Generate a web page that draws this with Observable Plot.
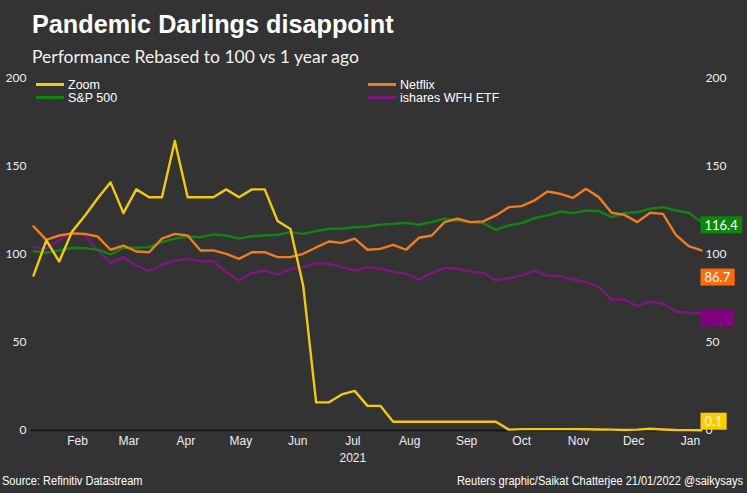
<!DOCTYPE html>
<html><head><meta charset="utf-8">
<script src="https://cdn.jsdelivr.net/npm/d3@7"></script>
<script src="https://cdn.jsdelivr.net/npm/@observablehq/plot@0.6"></script>
<style>
html,body{margin:0;padding:0;background:#333333;}
#wrap{position:relative;width:747px;height:493px;overflow:hidden;background:#333333;}
#title{position:absolute;left:32px;top:9px;line-height:27px;font:bold 26px "Liberation Sans",Arial,sans-serif;color:#fff;white-space:nowrap;transform:scaleX(0.97);transform-origin:left center;}
#subtitle{position:absolute;left:32px;top:46px;line-height:18px;font:17.5px Lato,"Open Sans",sans-serif;color:#f2f2f2;white-space:nowrap;}
#chart{position:absolute;left:0;top:68px;}
.leg{position:absolute;font:12.5px "Liberation Sans",Arial,sans-serif;color:#fff;line-height:12px;white-space:nowrap;}
.leg span.sw{display:inline-block;width:28px;height:2.5px;vertical-align:middle;margin-right:4px;position:relative;top:-1px;}
.foot{position:absolute;top:474px;font:12px "Liberation Sans Narrow","Arial Narrow","Liberation Sans",sans-serif;color:#fff;white-space:nowrap;line-height:14px;transform:scaleX(0.92);}
</style>
</head><body>
<div id="wrap">
  <div id="title">Pandemic Darlings disappoint</div>
  <div id="subtitle">Performance Rebased to 100 vs 1 year ago</div>
  <div id="chart"></div>
  <div id="legend"></div>
  <div class="foot" style="left:2px;transform-origin:left center;">Source: Refinitiv Datastream</div>
  <div class="foot" style="right:4px;transform-origin:right center;">Reuters graphic/Saikat Chatterjee 21/01/2022 @saikysays</div>
</div>
<script>
// ---- data ----
const seriesNames = ["ishares WFH ETF", "S&P 500", "Netflix", "Zoom"];
const seriesColors = ["#80167f", "#118311", "#ee7d22", "#f2c811"];
const startDate = "2021-01-22"; // weekly observations (Fridays)
const zoom = [88,108,96,113,122,132,141,123.5,137,132.5,132.5,164.5,132.5,132.5,132.5,137,132.5,137,137,119,114.5,82,16,16,20.5,22.5,14,14,5,5,5,5,5,5,5,5,5,0.5,0.8,0.8,0.8,0.8,0.8,0.7,0.6,0.5,0.3,0.5,1.0,0.6,0.3,0.2,0.1];
const netflix = [116,108.3,110.8,112,111.7,110.2,102.7,105,101.7,101.3,109,111.7,110.8,102.3,102.3,100.4,97.5,101.3,101.3,98.5,98.5,100.4,104,107.4,106.6,109,102.7,103.2,105.5,102.7,109.5,110.8,118.4,120.3,118.4,118.8,122.2,126.9,127.5,130.7,135.8,134.5,132.2,137.3,132.6,123.7,122.5,118.4,123.7,123.1,111.2,104.7,102.3];
const sp500 = [101.9,101,102.3,103.8,103.6,102.7,100,103.8,103.8,104.2,107,109,110.2,109.8,111.4,110.8,109,110.4,110.8,111.2,112.7,111.7,113.3,114.6,114.6,115.5,115.9,117,117.4,118,116.9,118.4,120.3,119.3,118.4,117.8,114,116.5,117.8,120.6,122.2,124.4,123.5,125,124.6,121.2,123.5,124,126,126.9,125,123.7,118.4];
const wfh = [104.2,103.2,108.3,112.7,110.8,102.3,95.1,98.5,93.8,90.5,94.3,96.6,97.5,96.2,96.2,89.9,85.2,89.4,90.9,88.6,91.9,92.8,95.1,94.7,92.8,90.9,92.8,91.9,90.3,89,85.8,89.4,92.4,91.9,90.3,89.6,85.2,86.5,88,90.9,88,87.7,85.8,84.4,81.4,74.4,74.4,70.6,73.3,72,67.6,66.9,66.3];
// latest values shown in the end labels
const endNames = ["S&P 500", "Netflix", "ishares WFH ETF", "Zoom"];
const endValues = [116.4, 86.7, 63.5, 0.1];
const endBoxColors = ["#0b870b", "#ff6a0c", "#80007f", "#ffcc00"];
const endTextColors = ["#ffffff", "#ffffff", "#80007f", "#fff6c8"];
const yTicks = [0, 50, 100, 150, 200];
const monthTicks = ["2021-02-15","2021-03-15","2021-04-15","2021-05-15","2021-06-15","2021-07-15","2021-08-15","2021-09-15","2021-10-15","2021-11-15","2021-12-15","2022-01-15"];
const yearLabel = "2021";
const yearLabelDate = "2021-07-15";
const legendItems = [
  {name:"Zoom", color:"#f2c811"},
  {name:"S&P 500", color:"#118311"},
  {name:"Netflix", color:"#ee7d22"},
  {name:"ishares WFH ETF", color:"#80167f"}
];

// ---- build ----
const valuesByName = {"Zoom": zoom, "Netflix": netflix, "S&P 500": sp500, "ishares WFH ETF": wfh};
const t0 = new Date(startDate + "T00:00:00Z");
const dates = zoom.map((_, i) => d3.utcDay.offset(t0, 7 * i));
const rows = seriesNames.flatMap(n => valuesByName[n].map((v, i) => ({name: n, date: dates[i], value: v})));
const lastDate = dates[dates.length - 1];
const endRows = endNames.map((n, i) => ({name: n, value: endValues[i], box: endBoxColors[i], fg: endTextColors[i], date: lastDate}));
const narrow = "'Liberation Sans Narrow','Arial Narrow','Liberation Sans',sans-serif";

const plot = Plot.plot({
  width: 747,
  height: 405,
  marginTop: 10,
  marginBottom: 43,
  marginLeft: 33,
  marginRight: 46,
  style: {background: "transparent", color: "#eeeeee", fontFamily: "Lato, 'Open Sans', sans-serif", fontSize: "12px", overflow: "visible"},
  x: {type: "utc", domain: [dates[0], lastDate]},
  y: {domain: [0, 200]},
  color: {domain: seriesNames, range: seriesColors},
  marks: [
    Plot.ruleY([0], {stroke: "#111111", strokeWidth: 1.3, insetLeft: -2, insetRight: -10}),
    Plot.axisY({anchor: "left", ticks: yTicks, tickSize: 0, tickPadding: 7, label: null, fill: "#eeeeee"}),
    Plot.axisY({anchor: "right", ticks: yTicks, tickSize: 0, tickPadding: 4, label: null, fill: "#eeeeee"}),
    Plot.axisX({ticks: monthTicks.map(s => new Date(s + "T00:00:00Z")), tickFormat: d3.utcFormat("%b"), tickSize: 0, tickPadding: 6, label: null, fill: "#eeeeee", fontFamily: narrow, fontSize: 12}),
    Plot.text([yearLabel], {x: () => new Date(yearLabelDate + "T00:00:00Z"), text: d => d, frameAnchor: "bottom", dy: 31, fill: "#eeeeee", fontFamily: narrow, fontSize: 12}),
    Plot.lineY(rows, {x: "date", y: "value", z: "name", stroke: "name", strokeWidth: 2.4}),
    Plot.text(endRows, {x: "date", y: d => Math.max(d.value, 4.8), text: d => d.value.toFixed(1), textAnchor: "start", dx: 3, fill: d => d.fg, fontSize: 13, fontFamily: "Lato, 'Open Sans', sans-serif", className: "endlab"})
  ]
});
document.getElementById("chart").appendChild(plot);

// boxes behind end labels, sized from the rendered label text
const labG = plot.querySelector("g.endlab") || plot.querySelector(".endlab");
if (labG) {
  const texts = Array.from(labG.querySelectorAll("text"));
  texts.forEach((t, i) => {
    const bb = t.getBBox();
    const r = document.createElementNS("http://www.w3.org/2000/svg", "rect");
    r.setAttribute("x", bb.x - 4);
    r.setAttribute("y", bb.y - 0.5);
    r.setAttribute("width", bb.width + 8);
    r.setAttribute("height", bb.height + 1);
    r.setAttribute("fill", endRows[i].box);
    const tr = t.getAttribute("transform");
    if (tr) r.setAttribute("transform", tr);
    t.parentNode.insertBefore(r, t);
  });
}

// legend
const leg = document.getElementById("legend");
const legPos = [[36, 79], [36, 92], [368, 79], [368, 92]];
legendItems.forEach((it, i) => {
  const d = document.createElement("div");
  d.className = "leg";
  d.style.left = legPos[i][0] + "px";
  d.style.top = legPos[i][1] + "px";
  d.innerHTML = `<span class="sw" style="background:${it.color}"></span>${it.name}`;
  leg.appendChild(d);
});
</script>
</body></html>
